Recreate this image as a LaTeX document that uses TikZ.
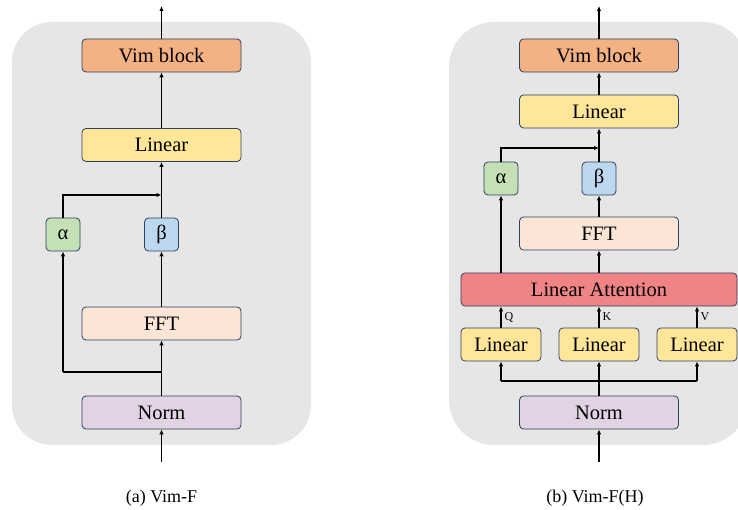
\documentclass[tikz,border=0pt]{standalone}
\usepackage{fontspec}
\setmainfont{Liberation Serif}
\usetikzlibrary{arrows.meta}
\definecolor{bggray}{HTML}{E6E6E6}
\definecolor{edgec}{HTML}{2E4060}
\definecolor{vimc}{HTML}{F4B183}
\definecolor{linc}{HTML}{FFE699}
\definecolor{alc}{HTML}{C5E0B4}
\definecolor{bec}{HTML}{BDD7EE}
\definecolor{fftc}{HTML}{FBE5D6}
\definecolor{normc}{HTML}{E2D3E4}
\definecolor{attc}{HTML}{F08484}
\begin{document}
\begin{tikzpicture}[x=1pt,y=-1pt,
  blk/.style={draw=edgec,line width=0.8pt,rounded corners=4pt,inner sep=0pt,font=\fontsize{20.5}{22}\selectfont},
  wide/.style={blk,minimum width=159pt,minimum height=33pt},
  small/.style={blk,minimum width=34pt,minimum height=33pt},
  lin3/.style={blk,minimum width=80pt,minimum height=33pt},
  arr/.style={line width=1.4pt,-{Latex[length=5pt,width=4.5pt]}},
  ln/.style={line width=1.4pt},
  qkv/.style={font=\fontsize{12}{13}\selectfont,inner sep=0pt,anchor=west},
  captxt/.style={font=\fontsize{18}{20}\selectfont}]
\useasboundingbox (0,0) rectangle (738,510);
% backgrounds
\fill[bggray,rounded corners=40pt] (12,22) rectangle (311,445);
\begin{scope}
\clip (0,0) rectangle (738,510);
\fill[bggray,rounded corners=45pt] (449,22) rectangle (748,445);
\end{scope}

% ---------- left (a) ----------
\node[wide,fill=vimc] (avim) at (161.5,55.5) {Vim block};
\node[wide,fill=linc] (alin) at (161.5,145) {Linear};
\node[small,fill=alc] (aal) at (63,234.5) {α};
\node[small,fill=bec] (abe) at (161.5,234.5) {β};
\node[wide,fill=fftc] (afft) at (161.5,323.5) {FFT};
\node[wide,fill=normc] (anorm) at (161.5,412.5) {Norm};
\coordinate (atop) at (161.5,6);
\coordinate (abot) at (161.5,462);
\coordinate (ajn) at (161.5,372);
\coordinate (ajl) at (63,372);
\coordinate (amerge) at (161.5,195);
\draw[arr] (avim.north) -- (atop);
\draw[arr] (alin.north) -- (avim.south);
\draw[arr] (abe.north) -- (alin.south);
\draw[arr] (afft.north) -- (abe.south);
\draw[arr] (anorm.north) -- (afft.south);
\draw[arr] (abot) -- (anorm.south);
\draw[ln] (ajn) -- (ajl);
\draw[arr] (ajl) -- (aal.south);
\draw[arr] (aal.north) |- (amerge);
\node[captxt] (acap) at (161.5,498) {(a) Vim-F};

% ---------- right (b) ----------
\node[wide,fill=vimc] (bvim) at (599,55.5) {Vim block};
\node[wide,fill=linc] (blin) at (599,111.5) {Linear};
\node[small,fill=alc] (bal) at (501,178.5) {α};
\node[small,fill=bec] (bbe) at (599,178.5) {β};
\node[wide,fill=fftc] (bfft) at (599,233.5) {FFT};
\node[blk,fill=attc,minimum width=276pt,minimum height=33pt] (batt) at (599,289.5) {Linear Attention};
\node[lin3,fill=linc] (bl1) at (501,344.5) {Linear};
\node[lin3,fill=linc] (bl2) at (599,344.5) {Linear};
\node[lin3,fill=linc] (bl3) at (697,344.5) {Linear};
\node[wide,fill=normc] (bnorm) at (599,412.5) {Norm};
\coordinate (btop) at (599,6);
\coordinate (bbot) at (599,462);
\coordinate (bmerge) at (599,148);
\coordinate (bj) at (599,381);
\coordinate (bjl) at (501,381);
\coordinate (bjr) at (697,381);
\draw[arr] (bvim.north) -- (btop);
\draw[arr] (blin.north) -- (bvim.south);
\draw[arr] (bbe.north) -- (blin.south);
\draw[arr] (bfft.north) -- (bbe.south);
\draw[arr] (batt.north -| bfft.south) -- (bfft.south);
\draw[arr] (batt.north -| bal.south) -- (bal.south);
\draw[arr] (bal.north) |- (bmerge);
\draw[arr] (bl1.north) -- (bl1.north |- batt.south) node[qkv,pos=0.5,xshift=3pt] {Q};
\draw[arr] (bl2.north) -- (bl2.north |- batt.south) node[qkv,pos=0.5,xshift=3pt] {K};
\draw[arr] (bl3.north) -- (bl3.north |- batt.south) node[qkv,pos=0.5,xshift=3pt] {V};
\draw[arr] (bbot) -- (bnorm.south);
\draw[ln] (bnorm.north) -- (bj);
\draw[ln] (bjl) -- (bjr);
\draw[arr] (bjl) -- (bl1.south);
\draw[arr] (bj) -- (bl2.south);
\draw[arr] (bjr) -- (bl3.south);
\node[captxt] (bcap) at (595,498) {(b) Vim-F(H)};
\end{tikzpicture}
\end{document}
